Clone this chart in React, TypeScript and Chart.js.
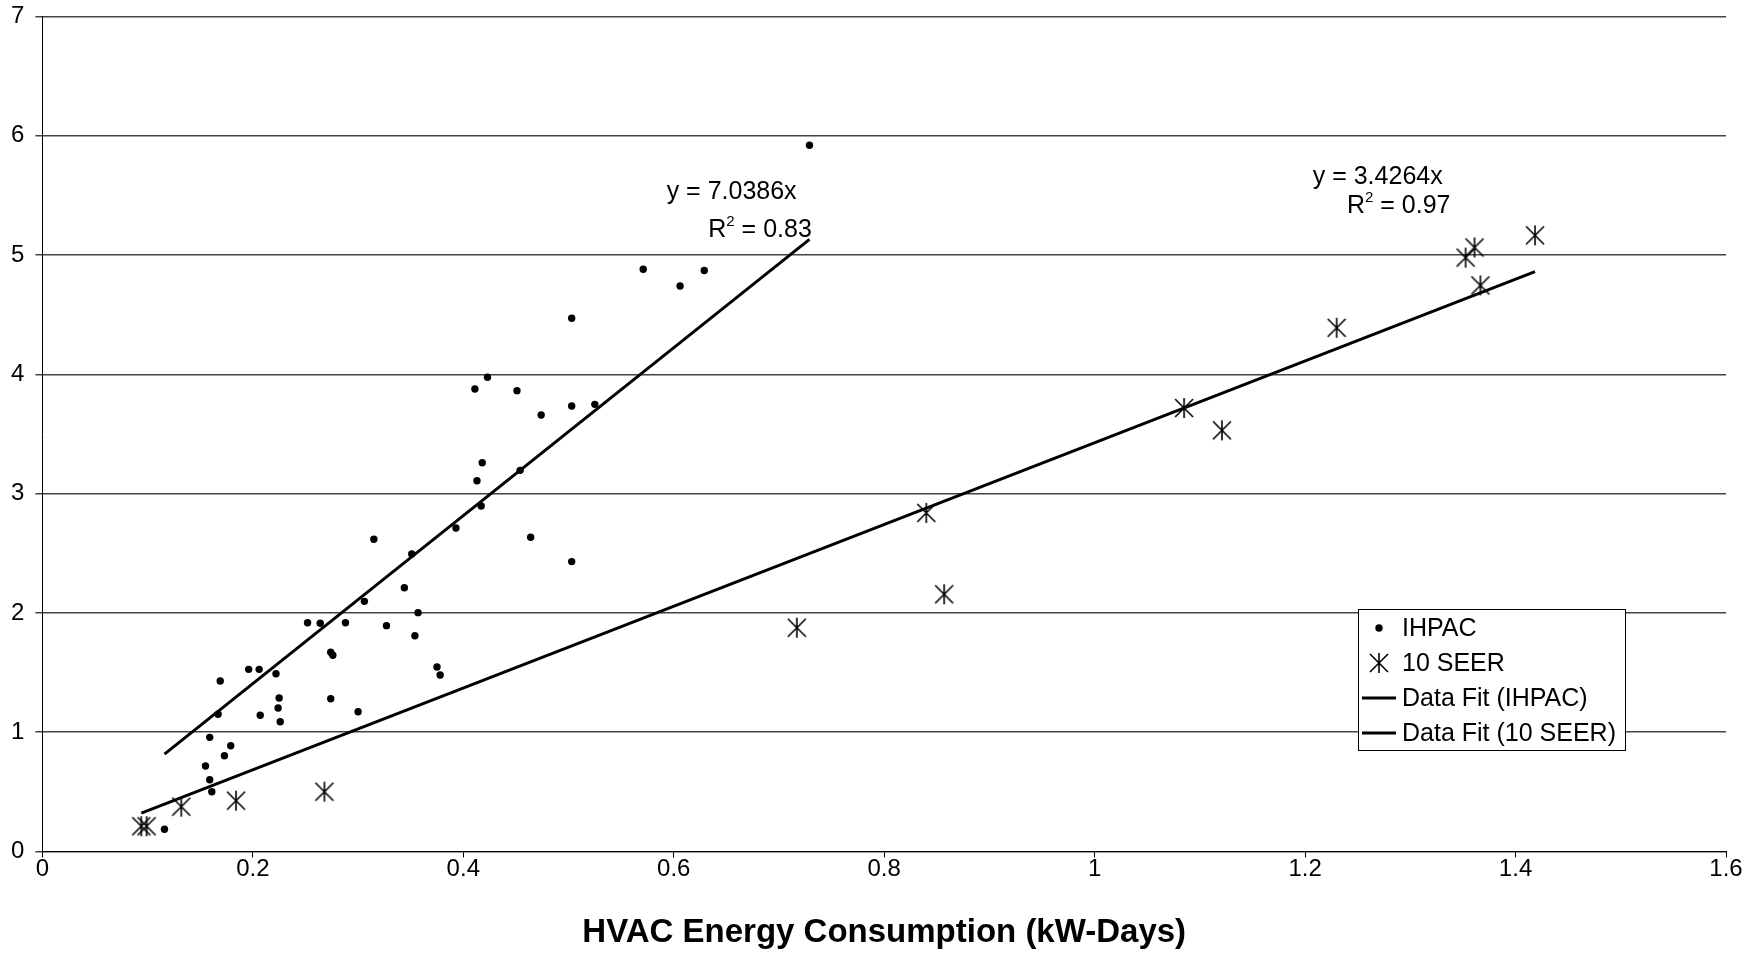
import React, { useEffect, useRef } from "react";
import { Chart, registerables } from "chart.js";

Chart.register(...registerables);

// ---- data ----
const ihpacX = [
  0.729, 0.571, 0.629, 0.606, 0.503, 0.423, 0.411, 0.451, 0.474, 0.503,
  0.525, 0.418, 0.413, 0.454, 0.417, 0.393, 0.464, 0.315, 0.351, 0.503,
  0.344, 0.306, 0.357, 0.252, 0.264, 0.288, 0.327, 0.354, 0.274, 0.276,
  0.375, 0.378, 0.196, 0.206, 0.222, 0.169, 0.225, 0.224, 0.274, 0.207,
  0.167, 0.226, 0.300, 0.159, 0.179, 0.173, 0.155, 0.159, 0.161, 0.116,
];
const ihpacY = [
  5.92, 4.88, 4.87, 4.74, 4.47, 3.975, 3.877, 3.863, 3.659, 3.734,
  3.748, 3.259, 3.108, 3.195, 2.896, 2.712, 2.634, 2.617, 2.494, 2.43,
  2.211, 2.097, 2.002, 1.918, 1.913, 1.918, 1.893, 1.809, 1.67, 1.645,
  1.547, 1.479, 1.527, 1.527, 1.49, 1.429, 1.287, 1.203, 1.281, 1.142,
  1.15, 1.088, 1.172, 0.957, 0.887, 0.803, 0.717, 0.602, 0.501, 0.186,
];
const seerX = [0.094, 0.099, 0.132, 0.184, 0.268, 0.717, 0.84, 0.857, 1.085, 1.121, 1.23, 1.3525, 1.361, 1.3666, 1.4185];
const seerY = [0.212, 0.212, 0.376, 0.426, 0.501, 1.876, 2.838, 2.156, 3.717, 3.53, 4.39, 4.978, 5.063, 4.745, 5.165];

const ihpacSlope = 7.0386;
const ihpacR2 = "0.83";
const seerSlope = 3.4264;
const seerR2 = "0.97";

const seriesLabels = ["IHPAC", "10 SEER", "Data Fit (IHPAC)", "Data Fit (10 SEER)"];
const xAxisTitle = "HVAC Energy Consumption (kW-Days)";
const xMin = 0, xMax = 1.6, xStep = 0.2;
const yMin = 0, yMax = 7, yStep = 1;

const FONT = "'Liberation Sans', Arial, sans-serif";

function makeStar(): HTMLCanvasElement {
  const c = document.createElement("canvas");
  c.width = 22;
  c.height = 22;
  const g = c.getContext("2d")!;
  g.strokeStyle = "#000";
  g.lineWidth = 1.6;
  g.beginPath();
  g.moveTo(11, 1); g.lineTo(11, 21);
  g.moveTo(2, 2); g.lineTo(20, 20);
  g.moveTo(20, 2); g.lineTo(2, 20);
  g.stroke();
  return c;
}

function fitLine(xs: number[], slope: number) {
  const lo = Math.min(...xs);
  const hi = Math.max(...xs);
  return [{ x: lo, y: slope * lo }, { x: hi, y: slope * hi }];
}

export default function App() {
  const ref = useRef<HTMLCanvasElement | null>(null);

  useEffect(() => {
    if (!ref.current) return;
    const star = makeStar();

    const drawR2 = (ctx: CanvasRenderingContext2D, cx: number, cy: number, val: string) => {
      const big = `25px ${FONT}`;
      const small = `15px ${FONT}`;
      ctx.font = big;
      const wR = ctx.measureText("R").width;
      const rest = " = " + val;
      const wRest = ctx.measureText(rest).width;
      ctx.font = small;
      const w2 = ctx.measureText("2").width;
      const total = wR + w2 + wRest;
      let sx = cx - total / 2;
      ctx.textAlign = "left";
      ctx.textBaseline = "middle";
      ctx.font = big;
      ctx.fillText("R", sx, cy);
      sx += wR;
      ctx.font = small;
      ctx.fillText("2", sx, cy - 8);
      sx += w2;
      ctx.font = big;
      ctx.fillText(rest, sx, cy);
    };

    const overlay = {
      id: "overlay",
      afterDatasetsDraw(chart: any) {
        const { ctx, chartArea } = chart;
        const xs = chart.scales.x;
        const ys = chart.scales.y;
        ctx.save();
        ctx.fillStyle = "#000";
        // equation annotations
        ctx.font = `25px ${FONT}`;
        ctx.textAlign = "center";
        ctx.textBaseline = "middle";
        ctx.fillText(`y = ${ihpacSlope}x`, xs.getPixelForValue(0.655), ys.getPixelForValue(5.528));
        drawR2(ctx, xs.getPixelForValue(0.682), ys.getPixelForValue(5.21), ihpacR2);
        ctx.font = `25px ${FONT}`;
        ctx.textAlign = "center";
        ctx.fillText(`y = ${seerSlope}x`, xs.getPixelForValue(1.269), ys.getPixelForValue(5.654));
        drawR2(ctx, xs.getPixelForValue(1.289), ys.getPixelForValue(5.411), seerR2);

        // legend
        const lx = chartArea.right - 368;
        const ly = chartArea.top + 592.6;
        const lw = 267;
        const lh = 141;
        ctx.fillStyle = "#fff";
        ctx.fillRect(lx, ly, lw, lh);
        ctx.strokeStyle = "#000";
        ctx.lineWidth = 1;
        ctx.strokeRect(Math.round(lx) + 0.5, Math.round(ly) + 0.5, lw, lh);
        const labels = chart.data.datasets.map((d: any) => d.label);
        labels.forEach((lab: string, i: number) => {
          const cy = ly + 19 + i * 35;
          const mx = lx + 21;
          ctx.fillStyle = "#000";
          if (i === 0) {
            ctx.beginPath();
            ctx.arc(mx, cy, 3.7, 0, Math.PI * 2);
            ctx.fill();
          } else if (i === 1) {
            ctx.drawImage(star, mx - 11, cy - 11);
          } else {
            ctx.strokeStyle = "#000";
            ctx.lineWidth = 3;
            ctx.beginPath();
            ctx.moveTo(lx + 4, cy);
            ctx.lineTo(lx + 38, cy);
            ctx.stroke();
          }
          ctx.font = `25px ${FONT}`;
          ctx.textAlign = "left";
          ctx.textBaseline = "middle";
          ctx.fillText(lab, lx + 44, cy + 1);
        });
        ctx.restore();
      },
    };

    const chart = new Chart(ref.current, {
      type: "scatter",
      data: {
        datasets: [
          {
            label: seriesLabels[0],
            data: ihpacX.map((x, i) => ({ x, y: ihpacY[i] })),
            pointStyle: "circle",
            pointRadius: 3.7,
            pointBackgroundColor: "#000",
            pointBorderWidth: 0,
            order: 2,
          },
          {
            label: seriesLabels[1],
            data: seerX.map((x, i) => ({ x, y: seerY[i] })),
            pointStyle: star as any,
            pointRadius: 11,
            order: 2,
          },
          {
            label: seriesLabels[2],
            data: fitLine(ihpacX, ihpacSlope),
            showLine: true,
            borderColor: "#000",
            borderWidth: 3,
            pointRadius: 0,
            order: 1,
          },
          {
            label: seriesLabels[3],
            data: fitLine(seerX, seerSlope),
            showLine: true,
            borderColor: "#000",
            borderWidth: 3,
            pointRadius: 0,
            order: 1,
          },
        ],
      },
      options: {
        animation: false,
        responsive: true,
        maintainAspectRatio: false,
        layout: { padding: { top: 16.4, right: 22, bottom: 0, left: 0 } },
        plugins: {
          legend: { display: false },
          tooltip: { enabled: false },
          title: { display: false },
        },
        scales: {
          x: {
            type: "linear",
            min: xMin,
            max: xMax,
            ticks: {
              stepSize: xStep,
              color: "#000",
              font: { family: FONT, size: 24 },
              padding: -3,
              maxRotation: 0,
              callback: (v: any) => String(Number(Number(v).toFixed(1))),
            },
            grid: { drawOnChartArea: false, drawTicks: true, tickLength: 6, color: "#000", lineWidth: 1 },
            border: { display: true, color: "#000", width: 1 },
            title: {
              display: true,
              text: xAxisTitle,
              color: "#000",
              font: { family: FONT, size: 33, weight: "bold" },
              padding: { top: 0, bottom: 0 },
            },
            afterFit: (s: any) => {
              s.height = 101.5;
              s.paddingLeft = 0;
              s.paddingRight = 0;
            },
          },
          y: {
            type: "linear",
            min: yMin,
            max: yMax,
            ticks: { stepSize: yStep, color: "#000", font: { family: FONT, size: 24 }, padding: 11 },
            grid: { drawOnChartArea: true, drawTicks: true, tickLength: 7, color: "#444", lineWidth: 1.5 },
            border: { display: true, color: "#000", width: 1 },
            afterFit: (s: any) => {
              s.width = 42.4;
              s.paddingTop = 0;
              s.paddingBottom = 0;
            },
          },
        },
      },
      plugins: [overlay],
    });
    return () => chart.destroy();
  }, []);

  return (
    <div style={{ position: "fixed", left: 0, top: 0, width: 1748, height: 953, background: "#fff" }}>
      <canvas ref={ref} />
    </div>
  );
}
